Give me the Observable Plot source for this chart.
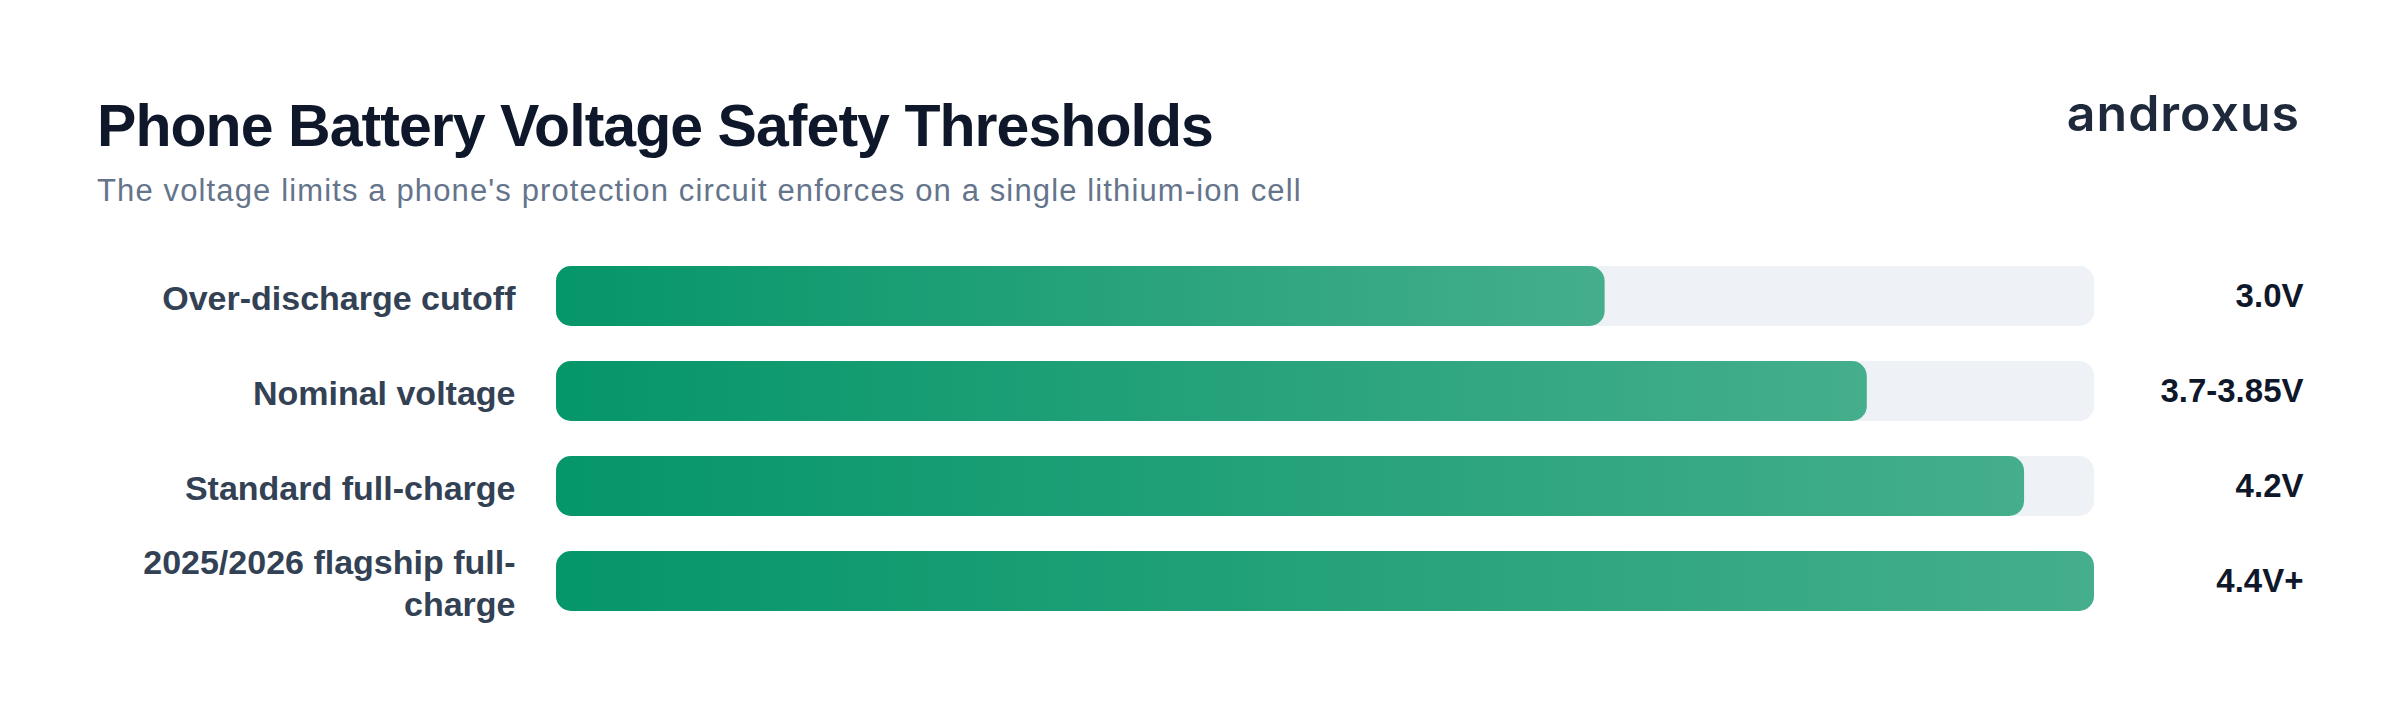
<!DOCTYPE html>
<html>
<head>
<meta charset="utf-8">
<script src="https://cdn.jsdelivr.net/npm/d3@7"></script>
<script src="https://cdn.jsdelivr.net/npm/@observablehq/plot@0.6"></script>
<style>
  html, body { margin: 0; padding: 0; background: #ffffff; }
  #page { position: relative; width: 2400px; height: 722px; overflow: hidden; background: #ffffff; }
  #header { position: relative; width: 2400px; height: 230px; }
  .title {
    position: absolute; left: 97px; top: 97px; margin: 0;
    font: 700 59px/1 "Liberation Sans", Arial, sans-serif; letter-spacing: -0.95px;
    color: #0f172a; white-space: nowrap;
  }
  .subtitle {
    position: absolute; left: 97px; top: 175px; margin: 0;
    font: 400 31px/1 "Liberation Sans", Arial, sans-serif; letter-spacing: 1.13px;
    color: #64748b; white-space: nowrap;
  }
  .brand {
    position: absolute; right: 100px; top: 88px; margin: 0;
    font: 600 50px/1 "Inter", sans-serif; letter-spacing: 1px;
    color: #1e293b; white-space: nowrap;
  }
  #chart svg { display: block; }
</style>
</head>
<body>
<div id="page">
  <div id="header">
    <h1 class="title">Phone Battery Voltage Safety Thresholds</h1>
    <p class="subtitle">The voltage limits a phone's protection circuit enforces on a single lithium-ion cell</p>
    <div class="brand">androxus</div>
  </div>
  <div id="chart"></div>
</div>
<script>
// Protection-circuit thresholds for a single Li-ion cell
const categories = [
  "Over-discharge cutoff",
  "Nominal voltage",
  "Standard full-charge",
  "2025/2026 flagship full-charge"
];
const voltages = [3.0, 3.75, 4.2, 4.4];
const valueLabels = ["3.0V", "3.7-3.85V", "4.2V", "4.4V+"];
const scaleMax = 4.4;

const rows = categories.map((category, i) => ({
  category,
  voltage: voltages[i],
  label: valueLabels[i],
  max: scaleMax
}));

const chart = Plot.plot({
  width: 2400,
  height: 492,
  marginLeft: 556,
  marginRight: 306,
  marginTop: 34.5,
  marginBottom: 110,
  x: { domain: [0, scaleMax], axis: null },
  y: { domain: categories, axis: null, paddingInner: 0.372, paddingOuter: 0 },
  style: { fontFamily: "'Liberation Sans', Arial, sans-serif", background: "#ffffff", overflow: "visible" },
  marks: [
    // background track spanning the full scale
    Plot.barX(rows, { x1: 0, x2: "max", y: "category", fill: "#eef2f6", rx: 15 }),
    // voltage bar with a left-to-right green gradient
    Plot.barX(rows, { x1: 0, x2: "voltage", y: "category", fill: "url(#bar-gradient)", rx: 15 }),
    // category labels, right-aligned left of the bars
    Plot.text(rows, {
      y: "category", text: "category",
      frameAnchor: "left", textAnchor: "end", dx: -41,
      lineWidth: 12, lineHeight: 1.22,
      fontSize: 34, fontWeight: 700, fill: "#334155"
    }),
    // value labels in the right-hand column
    Plot.text(rows, {
      y: "category", text: "label",
      frameAnchor: "right", textAnchor: "end", dx: 209,
      fontSize: 33, fontWeight: 700, fill: "#0f172a"
    })
  ]
});

// gradient used by each voltage bar (stretched to each bar's own width)
const svg = d3.select(chart);
const defs = svg.insert("defs", ":first-child");
const grad = defs.append("linearGradient")
  .attr("id", "bar-gradient")
  .attr("x1", "0").attr("y1", "0").attr("x2", "1").attr("y2", "0");
grad.append("stop").attr("offset", "0%").attr("stop-color", "#059669");
grad.append("stop").attr("offset", "100%").attr("stop-color", "#45ae8c");

document.getElementById("chart").appendChild(chart);
</script>
</body>
</html>
